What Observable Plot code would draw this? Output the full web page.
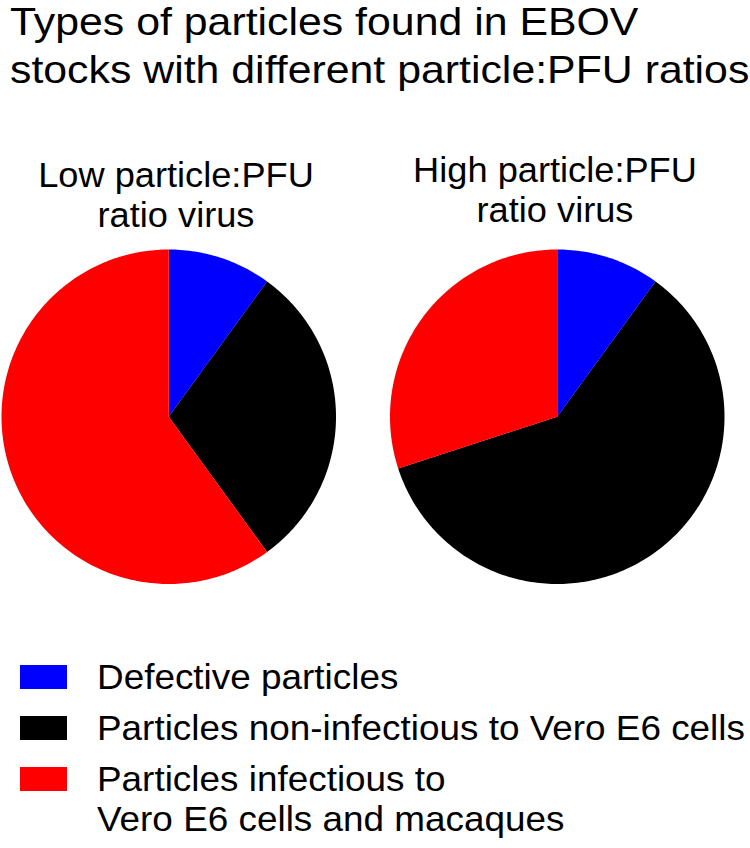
<!DOCTYPE html>
<html>
<head>
<meta charset="utf-8">
<script src="https://cdn.jsdelivr.net/npm/d3@7"></script>
<script src="https://cdn.jsdelivr.net/npm/@observablehq/plot@0.6"></script>
<style>
  html, body { margin: 0; padding: 0; background: #fff; }
  #page { position: relative; width: 750px; height: 848px; overflow: hidden;
          font-family: "Liberation Sans", Arial, Helvetica, sans-serif; color: #000; }
  .abs { position: absolute; white-space: pre; }
  .title { left: 10px; font-size: 39px; line-height: 40px; transform: scaleX(1.098); transform-origin: 0 0; }
  .sub { width: 400px; text-align: center; font-size: 35.5px; line-height: 40px; transform: scaleX(1.02); }
  #chart { position: absolute; left: 0; top: 240px; }
  .sw { position: absolute; left: 20px; width: 47px; height: 24px; }
  .lt { position: absolute; left: 97px; font-size: 35px; line-height: 40px; white-space: pre;
        transform: scaleX(1.054); transform-origin: 0 0; }
</style>
</head>
<body>
<div id="page"></div>
<script>
// ---- data ----
const titleLines = ["Types of particles found in EBOV", "stocks with different particle:PFU ratios"];
const viruses = ["Low particle:PFU\nratio virus", "High particle:PFU\nratio virus"];
const categories = [
  "Defective particles",
  "Particles non-infectious to Vero E6 cells",
  "Particles infectious to\nVero E6 cells and macaques"
];
const lowValues = [10, 30, 60];
const highValues = [10, 60, 30];
const colors = ["#0000ff", "#000000", "#ff0000"];

// ---- build slice outlines from the values ----
const pie = d3.pie().sort(null).value(d => d);
const slices = [];
[lowValues, highValues].forEach((vals, vi) => {
  pie(vals).forEach((a, ci) => {
    const n = Math.max(2, Math.ceil((a.endAngle - a.startAngle) / (Math.PI / 180)));
    slices.push({virus: viruses[vi], cat: categories[ci], x: 0, y: 0});
    for (let k = 0; k <= n; ++k) {
      const t = a.startAngle + (a.endAngle - a.startAngle) * k / n;
      slices.push({virus: viruses[vi], cat: categories[ci], x: Math.sin(t), y: Math.cos(t)});
    }
  });
});

const page = document.getElementById("page");

// title (two lines)
const titleTops = [2, 49.5];
titleLines.forEach((line, i) => {
  const t = document.createElement("div");
  t.className = "abs title";
  t.style.top = titleTops[i] + "px";
  t.textContent = line;
  page.appendChild(t);
});

// subtitles (one per pie)
const subPos = [{cx: 176, top: 154.7}, {cx: 555, top: 149.7}];
viruses.forEach((v, i) => {
  const s = document.createElement("div");
  s.className = "abs sub";
  s.style.left = (subPos[i].cx - 200) + "px";
  s.style.top = subPos[i].top + "px";
  s.textContent = v;
  page.appendChild(s);
});

// pies
const chart = Plot.plot({
  width: 750,
  height: 360,
  marginLeft: 1,
  marginRight: 26,
  marginTop: 9,
  marginBottom: 360 - 9 - 334.5,
  fx: {domain: viruses, paddingInner: 0.139, paddingOuter: 0, axis: null, round: false},
  x: {domain: [-1, 1], axis: null},
  y: {domain: [-1, 1], axis: null},
  color: {domain: categories, range: colors},
  marks: [
    Plot.line(slices, {fx: "virus", x: "x", y: "y", z: "cat", fill: "cat", stroke: null, curve: "linear"})
  ]
});
chart.id = "chart";
page.appendChild(chart);

// legend
const rowTops = [665, 716, 767];
categories.forEach((c, i) => {
  const sw = document.createElement("div");
  sw.className = "sw";
  sw.style.top = rowTops[i] + "px";
  sw.style.background = colors[i];
  page.appendChild(sw);
  const t = document.createElement("div");
  t.className = "lt";
  t.style.top = (rowTops[i] - 8) + "px";
  t.textContent = c;
  page.appendChild(t);
});
</script>
</body>
</html>
